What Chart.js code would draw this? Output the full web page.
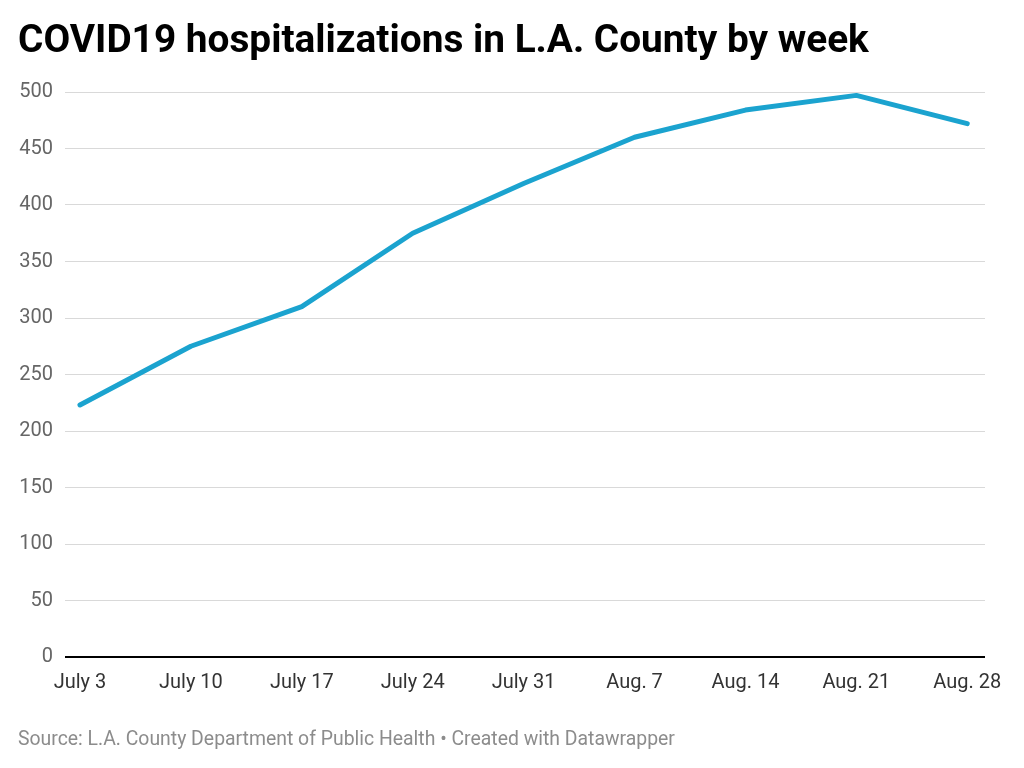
<!DOCTYPE html>
<html>
<head>
<meta charset="utf-8">
<script src="https://cdn.jsdelivr.net/npm/chart.js@4"></script>
<style>
  html, body { margin: 0; padding: 0; background: #fff; }
  body { width: 1024px; height: 768px; position: relative; overflow: hidden; font-family: Roboto, sans-serif; }
  #title { position: absolute; left: 18px; top: 20px; font-size: 38.8px; line-height: 1; font-weight: 700; color: #000; white-space: nowrap; }
  #source { position: absolute; left: 18px; top: 729px; font-size: 19.4px; line-height: 1; color: #8c8c8c; white-space: nowrap; }
  #wrap { position: absolute; left: 0; top: 0; width: 1024px; height: 768px; }
</style>
</head>
<body>
<div id="wrap"><canvas id="chart" width="1024" height="768"></canvas></div>
<div id="title">COVID19 hospitalizations in L.A. County by week</div>
<div id="source">Source: L.A. County Department of Public Health • Created with Datawrapper</div>
<script>
const weeks = ['July 3', 'July 10', 'July 17', 'July 24', 'July 31', 'Aug. 7', 'Aug. 14', 'Aug. 21', 'Aug. 28'];
const hospitalizations = [223, 275, 310, 375, 419, 460, 484, 497, 472];
const yTicks = [0, 50, 100, 150, 200, 250, 300, 350, 400, 450, 500];

const points = weeks.map((w, i) => ({ x: i, y: hospitalizations[i] }));

const ctx = document.getElementById('chart').getContext('2d');
new Chart(ctx, {
    type: 'line',
    data: {
        datasets: [{
            data: points,
            borderColor: '#1ba3cf',
            borderWidth: 5,
            pointRadius: 0,
            tension: 0,
            clip: false,
            borderCapStyle: 'round',
            borderJoinStyle: 'round'
        }]
    },
    options: {
        responsive: false,
        animation: false,
        layout: { padding: { left: 18, right: 39, top: 92, bottom: 71 } },
        plugins: { legend: { display: false }, tooltip: { enabled: false } },
        scales: {
            x: {
                type: 'linear',
                min: -0.135,
                max: 8.16,
                afterFit: (s) => { s.height = 40; },
                grid: { display: false },
                border: { display: false },
                ticks: {
                    stepSize: 1,
                    includeBounds: false,
                    autoSkip: false,
                    maxRotation: 0,
                    padding: 6,
                    color: '#333',
                    font: { family: 'Roboto', size: 20 },
                    callback: (v) => Number.isInteger(v) && weeks[v] ? weeks[v] : ''
                }
            },
            y: {
                min: 0,
                max: 500,
                afterFit: (s) => { s.width = 47; },
                afterBuildTicks: (s) => { s.ticks = yTicks.map(v => ({ value: v })); },
                border: { display: false },
                grid: {
                    drawTicks: false,
                    color: (c) => c.tick && c.tick.value === 0 ? '#000' : '#d9d9d9',
                    lineWidth: (c) => c.tick && c.tick.value === 0 ? 2 : 1
                },
                ticks: {
                    padding: 12,
                    color: '#666',
                    font: { family: 'Roboto', size: 20 }
                }
            }
        }
    }
});
</script>
</body>
</html>
